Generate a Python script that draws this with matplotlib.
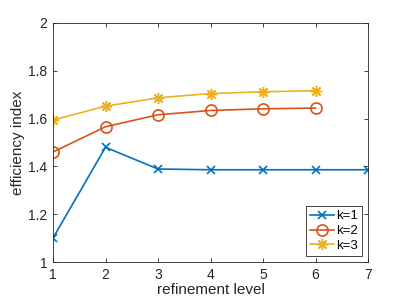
import matplotlib.pyplot as plt

levels_k1 = [1, 2, 3, 4, 5, 6, 7]
eff_k1 = [1.10, 1.48, 1.389, 1.386, 1.386, 1.386, 1.386]
levels_k2 = [1, 2, 3, 4, 5, 6]
eff_k2 = [1.46, 1.566, 1.616, 1.634, 1.641, 1.644]
levels_k3 = [1, 2, 3, 4, 5, 6]
eff_k3 = [1.594, 1.652, 1.687, 1.705, 1.712, 1.717]

plt.rcParams['font.family'] = ['Liberation Sans', 'DejaVu Sans']

fig = plt.figure(figsize=(4.07, 3.05), dpi=100)
ax = fig.add_axes([53/407, 43/305, 315/407, 239/305])

ax.plot(levels_k1, eff_k1, color='#0072BD', marker='x', markersize=6, mew=1.2, lw=1.2, label='k=1')
ax.plot(levels_k2, eff_k2, color='#D95319', marker='o', markersize=8, mfc='none', mew=1.2, lw=1.2, label='k=2')
ax.plot(levels_k3, eff_k3, color='#EDB120', marker=(8, 2, 0), markersize=8, mew=1.1, lw=1.2, label='k=3')

ax.set_xlim(1, 7)
ax.set_ylim(1, 2)
ax.set_xticks(range(1, 8))
ax.set_yticks([1, 1.2, 1.4, 1.6, 1.8, 2])
ax.set_yticklabels(['1', '1.2', '1.4', '1.6', '1.8', '2'])
ax.tick_params(direction='in', top=True, right=True, labelsize=10, colors='#262626', length=3, width=0.6, pad=4)
for s in ax.spines.values():
    s.set_color('#262626')
    s.set_linewidth(0.6)
ax.set_xlabel('refinement level', fontsize=11, color='#262626', labelpad=1)
ax.set_ylabel('efficiency index', fontsize=11, color='#262626', labelpad=2)

leg = ax.legend(loc='lower right', fontsize=9.5, fancybox=False, framealpha=1, edgecolor='#262626',
                borderpad=0.3, labelspacing=0.2, handlelength=1.8, handletextpad=0.2, borderaxespad=0.45)
leg.get_frame().set_linewidth(0.6)

fig.savefig('out.png', dpi=100)
